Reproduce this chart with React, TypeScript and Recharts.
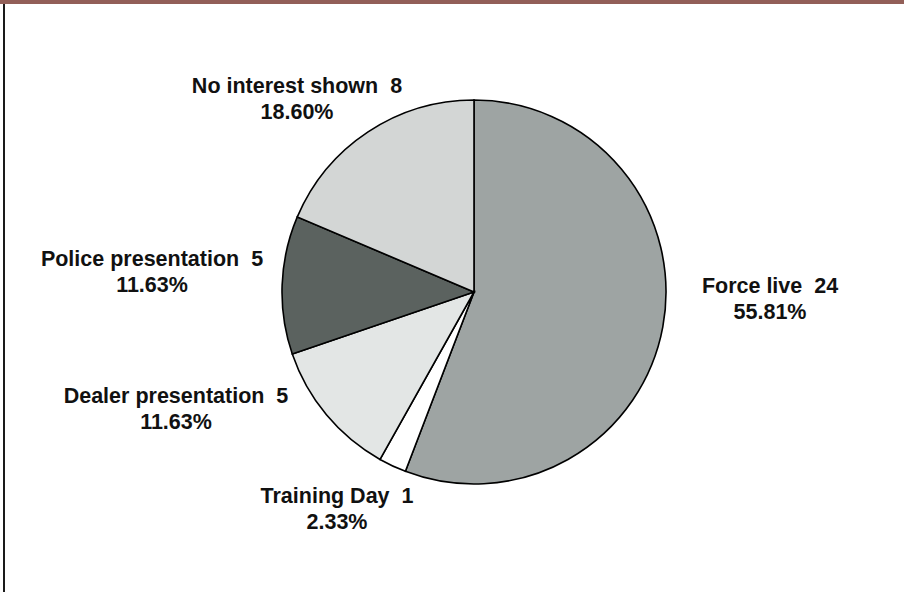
import React from "react";
import { PieChart, Pie, Cell } from "recharts";

const categories = ["Force live", "Training Day", "Dealer presentation", "Police presentation", "No interest shown"];
const counts = [24, 1, 5, 5, 8];
const sliceColors = ["#9ea4a3", "#ffffff", "#e3e6e5", "#5b625f", "#d3d6d5"];
// label placement relative to pie centre (first-line baseline centre)
const labelOffsets = [
  { dx: 296, dy: 1 },
  { dx: -137, dy: 211 },
  { dx: -298, dy: 111 },
  { dx: -322, dy: -26 },
  { dx: -177, dy: -199 },
];

const total = counts.reduce((a, b) => a + b, 0);
const data = categories.map((name, i) => ({ name, value: counts[i] }));

const renderLabel = (props: any) => {
  const { cx, cy, index, name, value } = props;
  const off = labelOffsets[index];
  const x = cx + off.dx;
  const y = cy + off.dy;
  const pct = ((value / total) * 100).toFixed(2) + "%";
  return (
    <text
      x={x}
      y={y}
      textAnchor="middle"
      fill="#111"
      fontFamily="'Liberation Sans', Arial, sans-serif"
      fontWeight="bold"
      fontSize={21.5}
      style={{ whiteSpace: "pre" }}
    >
      <tspan x={x} y={y}>{`${name}\u00a0\u00a0${value}`}</tspan>
      <tspan x={x} y={y + 26}>{pct}</tspan>
    </text>
  );
};

export default function App() {
  return (
    <div style={{ position: "absolute", left: 0, top: 0, width: 904, height: 592, background: "#fff" }}>
      <div style={{ position: "absolute", left: 0, top: 0, width: 904, height: 4, background: "#925f58" }} />
      <div style={{ position: "absolute", left: 3, top: 4, width: 1.5, height: 588, background: "#1a1a1a" }} />
      <PieChart width={904} height={592} margin={{ top: 0, right: 0, bottom: 0, left: 0 }}>
        <Pie
          data={data}
          dataKey="value"
          nameKey="name"
          cx={474}
          cy={292}
          outerRadius={192}
          startAngle={90}
          endAngle={-270}
          stroke="#000"
          strokeWidth={1.6}
          label={renderLabel}
          labelLine={false}
          isAnimationActive={false}
        >
          {data.map((d, i) => (
            <Cell key={d.name} fill={sliceColors[i]} />
          ))}
        </Pie>
      </PieChart>
    </div>
  );
}
